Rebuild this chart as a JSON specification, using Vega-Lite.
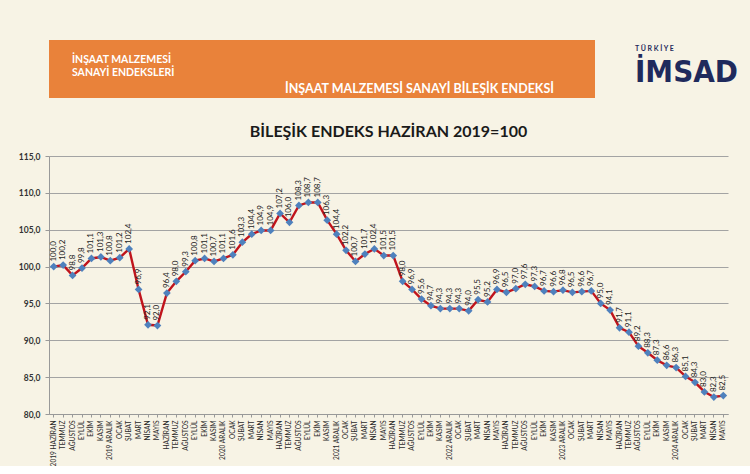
{
  "$schema": "https://vega.github.io/schema/vega-lite/v6.json",
  "background": "#F7F3E5",
  "padding": {"left": 0, "top": 40, "right": 0, "bottom": 0},
  "spacing": 26,
  "columns": 1,
  "config": {
    "view": {"stroke": null},
    "font": "Lato"
  },
  "concat": [
    {
      "spacing": 0,
      "hconcat": [
        {
          "width": 221,
          "height": 58,
          "view": {"fill": "#E9823A", "stroke": null},
          "data": {"values": [{}]},
          "mark": {"type": "text"},
          "encoding": {},
          "title": {
            "text": ["İNŞAAT MALZEMESİ", "SANAYİ ENDEKSLERİ"],
            "orient": "bottom",
            "anchor": "start",
            "frame": "group",
            "offset": -43,
            "dx": 23,
            "font": "Lato",
            "fontSize": 10.5,
            "fontWeight": "bold",
            "lineHeight": 13,
            "color": "#FFFFFF"
          }
        },
        {
          "width": 325,
          "height": 58,
          "view": {"fill": "#E9823A", "stroke": null},
          "data": {"values": [{}]},
          "mark": {"type": "text"},
          "encoding": {},
          "title": {
            "text": "İNŞAAT MALZEMESİ SANAYİ BİLEŞİK ENDEKSİ",
            "orient": "bottom",
            "anchor": "start",
            "frame": "group",
            "offset": -15,
            "dx": 15,
            "font": "Lato",
            "fontSize": 12.5,
            "fontWeight": "bold",
            "color": "#FFFFFF"
          }
        },
        {
          "width": 155,
          "height": 58,
          "view": {"stroke": null},
          "data": {"values": [{}]},
          "mark": {"type": "text"},
          "encoding": {},
          "title": {
            "text": "T Ü R K İ Y E",
            "subtitle": "İMSAD",
            "orient": "bottom",
            "anchor": "start",
            "frame": "group",
            "offset": -53,
            "dx": 40,
            "font": "Lato",
            "fontSize": 7,
            "fontWeight": "bold",
            "color": "#1F2A5C",
            "subtitleFont": "'Liberation Sans Narrow', 'DejaVu Sans Condensed', Roboto",
            "subtitleFontSize": 31,
            "subtitleFontWeight": "bold",
            "subtitleColor": "#1F2A5C",
            "subtitlePadding": 6
          }
        }
      ]
    },
    {
      "width": 679,
      "height": 258,
      "title": {
        "text": "BİLEŞİK ENDEKS HAZİRAN 2019=100",
        "font": "Lato",
        "fontSize": 16,
        "fontWeight": "bold",
        "color": "#1A1A1A",
        "anchor": "middle",
        "frame": "group",
        "offset": 12
      },
      "data": {
        "values": [
          {"ay": "2019-06", "endeks": 100.0},
          {"ay": "2019-07", "endeks": 100.2},
          {"ay": "2019-08", "endeks": 98.8},
          {"ay": "2019-09", "endeks": 99.8},
          {"ay": "2019-10", "endeks": 101.1},
          {"ay": "2019-11", "endeks": 101.3},
          {"ay": "2019-12", "endeks": 100.8},
          {"ay": "2020-01", "endeks": 101.2},
          {"ay": "2020-02", "endeks": 102.4},
          {"ay": "2020-03", "endeks": 96.9},
          {"ay": "2020-04", "endeks": 92.1},
          {"ay": "2020-05", "endeks": 92.0},
          {"ay": "2020-06", "endeks": 96.4},
          {"ay": "2020-07", "endeks": 98.0},
          {"ay": "2020-08", "endeks": 99.3},
          {"ay": "2020-09", "endeks": 100.8},
          {"ay": "2020-10", "endeks": 101.1},
          {"ay": "2020-11", "endeks": 100.7},
          {"ay": "2020-12", "endeks": 101.1},
          {"ay": "2021-01", "endeks": 101.6},
          {"ay": "2021-02", "endeks": 103.3},
          {"ay": "2021-03", "endeks": 104.4},
          {"ay": "2021-04", "endeks": 104.9},
          {"ay": "2021-05", "endeks": 104.9},
          {"ay": "2021-06", "endeks": 107.2},
          {"ay": "2021-07", "endeks": 106.0},
          {"ay": "2021-08", "endeks": 108.3},
          {"ay": "2021-09", "endeks": 108.7},
          {"ay": "2021-10", "endeks": 108.7},
          {"ay": "2021-11", "endeks": 106.3},
          {"ay": "2021-12", "endeks": 104.4},
          {"ay": "2022-01", "endeks": 102.2},
          {"ay": "2022-02", "endeks": 100.7},
          {"ay": "2022-03", "endeks": 101.7},
          {"ay": "2022-04", "endeks": 102.4},
          {"ay": "2022-05", "endeks": 101.5},
          {"ay": "2022-06", "endeks": 101.5},
          {"ay": "2022-07", "endeks": 98.0},
          {"ay": "2022-08", "endeks": 96.9},
          {"ay": "2022-09", "endeks": 95.6},
          {"ay": "2022-10", "endeks": 94.7},
          {"ay": "2022-11", "endeks": 94.3},
          {"ay": "2022-12", "endeks": 94.3},
          {"ay": "2023-01", "endeks": 94.3},
          {"ay": "2023-02", "endeks": 94.0},
          {"ay": "2023-03", "endeks": 95.5},
          {"ay": "2023-04", "endeks": 95.2},
          {"ay": "2023-05", "endeks": 96.9},
          {"ay": "2023-06", "endeks": 96.5},
          {"ay": "2023-07", "endeks": 97.0},
          {"ay": "2023-08", "endeks": 97.6},
          {"ay": "2023-09", "endeks": 97.3},
          {"ay": "2023-10", "endeks": 96.7},
          {"ay": "2023-11", "endeks": 96.6},
          {"ay": "2023-12", "endeks": 96.8},
          {"ay": "2024-01", "endeks": 96.5},
          {"ay": "2024-02", "endeks": 96.6},
          {"ay": "2024-03", "endeks": 96.7},
          {"ay": "2024-04", "endeks": 95.0},
          {"ay": "2024-05", "endeks": 94.1},
          {"ay": "2024-06", "endeks": 91.7},
          {"ay": "2024-07", "endeks": 91.1},
          {"ay": "2024-08", "endeks": 89.2},
          {"ay": "2024-09", "endeks": 88.3},
          {"ay": "2024-10", "endeks": 87.3},
          {"ay": "2024-11", "endeks": 86.6},
          {"ay": "2024-12", "endeks": 86.3},
          {"ay": "2025-01", "endeks": 85.1},
          {"ay": "2025-02", "endeks": 84.3},
          {"ay": "2025-03", "endeks": 83.0},
          {"ay": "2025-04", "endeks": 82.3},
          {"ay": "2025-05", "endeks": 82.5}
        ]
      },
      "encoding": {
        "x": {
          "field": "ay",
          "type": "ordinal",
          "sort": null,
          "scale": {"type": "band", "paddingInner": 0, "paddingOuter": 0},
          "axis": {
            "title": null,
            "labelAngle": -90,
            "labelFont": "Lato",
            "labelFontSize": 6.6,
            "labelColor": "#2A2A2A",
            "labelPadding": 3,
            "labelOverlap": false,
            "tickSize": 3,
            "tickColor": "#999999",
            "domainColor": "#999999",
            "labelExpr": "isString(datum.value) && length(datum.value) == 7 ? (((substring(datum.value,5,7) == '12') || (datum.value == '2019-06')) ? substring(datum.value,0,4) + ' ' : '') + (['OCAK','ŞUBAT','MART','NİSAN','MAYIS','HAZİRAN','TEMMUZ','AĞUSTOS','EYLÜL','EKİM','KASIM','ARALIK'][toNumber(substring(datum.value,5,7)) - 1] || '') : ''"
          }
        },
        "y": {
          "field": "endeks",
          "type": "quantitative",
          "scale": {"domain": [80, 115], "nice": false, "zero": false},
          "axis": {
            "title": null,
            "values": [80, 85, 90, 95, 100, 105, 110, 115],
            "labelExpr": "replace(format(datum.value,'.1f'),'.',',')",
            "labelFont": "Lato",
            "labelFontSize": 8.5,
            "labelFontWeight": "bold",
            "labelColor": "#333333",
            "labelPadding": 5,
            "tickSize": 4,
            "tickColor": "#999999",
            "domainColor": "#999999",
            "gridColor": "#A3A3A3",
            "minExtent": 49
          }
        }
      },
      "layer": [
        {"mark": {"type": "line", "color": "#C0141C", "strokeWidth": 2.4}},
        {"mark": {"type": "point", "shape": "diamond", "filled": true, "color": "#4F81BD", "size": 60, "opacity": 1}},
        {
          "mark": {"type": "text", "angle": 270, "align": "left", "baseline": "middle", "dx": 5, "font": "Lato", "fontSize": 8, "color": "#222222", "text": {"expr": "replace(format(datum.endeks,'.1f'),'.',',')"}}
        }
      ]
    }
  ]
}
